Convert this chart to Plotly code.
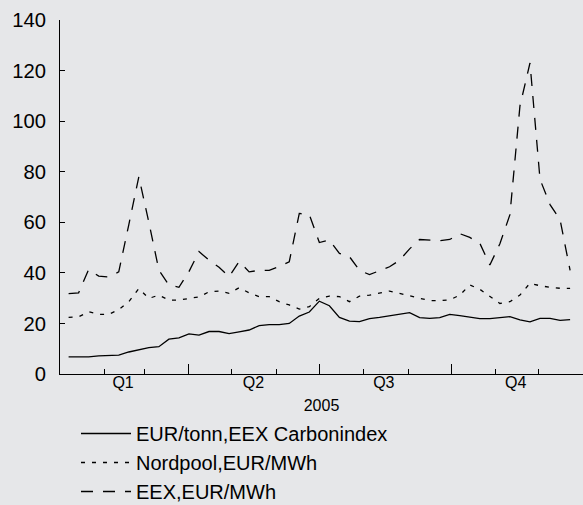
import pandas as pd
import plotly.graph_objects as go

# Weekly observations, 2005
dates = pd.date_range("2005-01-07", periods=51, freq="7D")

carbon = [6.8, 6.8, 6.8, 7.2, 7.2, 7.5, 8.7, 9.5, 10.4, 10.8,
          13.8, 14.3, 15.9, 15.4, 16.8, 16.8, 16.0, 16.7, 17.4, 19.1,
          19.5, 19.5, 20.0, 22.9, 24.5, 28.8, 27.0, 22.4, 20.9, 20.7,
          21.9, 22.4, 23.0, 23.7, 24.3, 22.3, 22.0, 22.3, 23.6, 23.1,
          22.5, 21.9, 21.9, 22.3, 22.7, 21.4, 20.6, 22.0, 22.0, 21.2,
          21.5]

nordpool = [22.4, 22.6, 24.6, 23.6, 23.6, 25.5, 28.6, 33.8, 29.9, 31.2,
            29.2, 29.2, 29.9, 30.5, 32.5, 32.8, 31.9, 34.1, 32.1, 30.6,
            30.6, 28.6, 27.3, 25.7, 26.6, 29.9, 30.8, 30.6, 28.6, 30.8,
            31.2, 32.1, 32.8, 31.9, 31.0, 29.9, 29.0, 29.0, 29.3, 31.2,
            35.2, 33.5, 30.8, 27.9, 28.6, 31.2, 35.9, 34.9, 34.3, 33.9,
            33.9]

eex = [31.8, 32.1, 41.3, 38.7, 38.4, 40.4, 59.0, 78.0, 60.0, 41.1,
       35.2, 34.3, 40.5, 48.4, 45.0, 42.2, 38.5, 44.5, 40.4, 41.0,
       41.0, 42.5, 44.4, 63.5, 63.0, 52.0, 53.0, 47.7, 46.4, 41.0,
       39.3, 41.0, 42.4, 45.0, 49.5, 53.2, 53.0, 52.7, 53.2, 55.5,
       54.0, 51.7, 43.1, 51.5, 63.0, 106.0, 123.0, 77.0, 67.0, 61.0,
       41.0]

names = ["EUR/tonn,EEX Carbonindex", "Nordpool,EUR/MWh", "EEX,EUR/MWh"]

quarter_labels = ["Q1", "Q2", "Q3", "Q4"]
quarter_mids = ["2005-02-14", "2005-05-16", "2005-08-15", "2005-11-15"]
quarter_starts = ["2005-04-01", "2005-07-01", "2005-10-01"]
month_starts = ["2005-02-01", "2005-03-01", "2005-05-01", "2005-06-01",
                "2005-08-01", "2005-09-01", "2005-11-01", "2005-12-01"]
y_ticks = [0, 20, 40, 60, 80, 100, 120, 140]
year_label = "2005"

FONT = "Liberation Sans, Arial, sans-serif"
BG = "#e6e7e9"

fig = go.Figure()
fig.add_trace(go.Scatter(x=dates, y=carbon, mode="lines", name=names[0],
                         line=dict(color="black", width=1.3)))
fig.add_trace(go.Scatter(x=dates, y=nordpool, mode="lines", name=names[1],
                         line=dict(color="black", width=1.3, dash="4px,7px")))
fig.add_trace(go.Scatter(x=dates, y=eex, mode="lines", name=names[2],
                         line=dict(color="black", width=1.3, dash="12px,10px")))
# invisible trace to activate the label axis
fig.add_trace(go.Scatter(x=[dates[0]], y=[None], xaxis="x2", showlegend=False,
                         hoverinfo="skip"))

xrange = ["2005-01-01", "2006-01-01"]

fig.update_layout(
    width=583, height=505,
    margin=dict(l=60, r=0, t=20, b=131, autoexpand=False),
    paper_bgcolor=BG, plot_bgcolor=BG,
    font=dict(family=FONT, color="black"),
    showlegend=True,
    legend=dict(x=(76 - 60) / 523, y=(374 - 414) / 354, xanchor="left", yanchor="top",
                bgcolor="rgba(0,0,0,0)", font=dict(size=20, family=FONT),
                itemwidth=50, tracegroupgap=0),
    xaxis=dict(type="date", range=xrange, showgrid=False, zeroline=False,
               showline=True, linecolor="black", linewidth=1,
               tickvals=quarter_starts, ticktext=["", "", ""],
               ticks="inside", ticklen=10, tickcolor="black", tickwidth=1,
               minor=dict(tickvals=month_starts, ticks="inside", ticklen=5,
                          tickcolor="black", tickwidth=1, showgrid=False)),
    xaxis2=dict(type="date", range=xrange, overlaying="x", anchor="y", side="bottom",
                showgrid=False, zeroline=False, showline=False,
                tickvals=quarter_mids, ticktext=quarter_labels, ticks="",
                tickfont=dict(size=16, family=FONT), ticklabelstandoff=-3,
                title=dict(text=year_label, font=dict(size=16, family=FONT), standoff=9)),
    yaxis=dict(range=[0, 140], tickvals=y_ticks, showgrid=False, zeroline=False,
               showline=True, linecolor="black", linewidth=1,
               ticks="inside", ticklen=5, tickcolor="black",
               tickfont=dict(size=20.2, family=FONT), ticklabelstandoff=9),
)

fig.write_html("out.html", config={"displayModeBar": False},
               post_script="document.body.style.margin='0';document.body.style.background='%s';" % BG)
